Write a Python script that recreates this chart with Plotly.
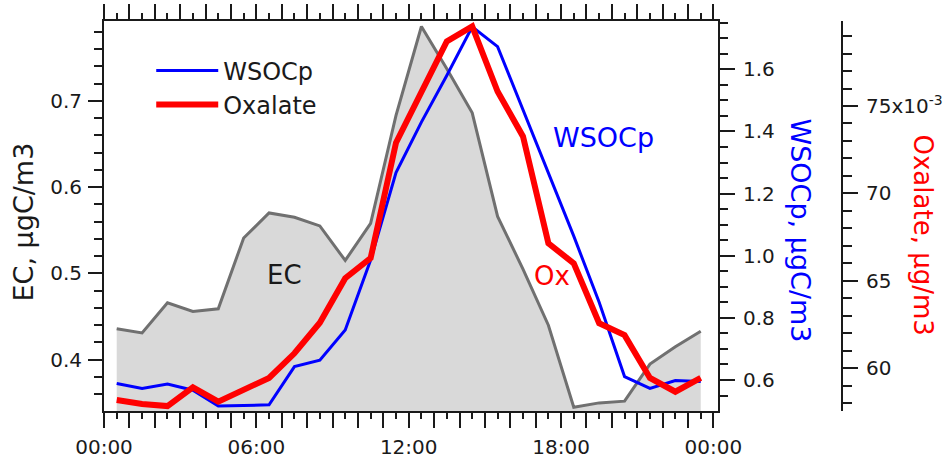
import plotly.graph_objects as go

# Hourly averages, time of day in hours (HH:30)
hours = [h + 0.5 for h in range(24)]

# Elemental carbon, ugC/m3
ec = [0.436, 0.431, 0.466, 0.456, 0.459, 0.541, 0.570, 0.565, 0.555, 0.515, 0.558, 0.683,
      0.786, 0.737, 0.686, 0.566, 0.505, 0.440, 0.345, 0.350, 0.352, 0.395, 0.415, 0.433]

# Particulate water-soluble organic carbon, ugC/m3
wsocp = [0.589, 0.573, 0.587, 0.567, 0.516, 0.518, 0.520, 0.643, 0.664, 0.761, 0.986, 1.268,
         1.430, 1.580, 1.737, 1.673, 1.470, 1.265, 1.063, 0.850, 0.611, 0.573, 0.598, 0.595]

# Oxalate, ug/m3
oxalate = [0.05819, 0.05796, 0.05784, 0.05891, 0.05809, 0.05875, 0.05945, 0.06086, 0.06261,
           0.06515, 0.06630, 0.07290, 0.07574, 0.07870, 0.07955, 0.07583, 0.07326, 0.06715,
           0.06600, 0.06258, 0.06190, 0.05945, 0.05866, 0.05945]

time_ticks = [0, 6, 12, 18, 24]
time_labels = ["00:00", "06:00", "12:00", "18:00", "00:00"]
ox_ticks = [0.060, 0.065, 0.070, 0.075]
ox_labels = ["60", "65", "70", "75x10<sup>-3</sup>"]

FONT = "DejaVu Sans"
BLACK = "#1a1a1a"

fig = go.Figure()

fig.add_trace(go.Scatter(
    x=hours, y=ec, mode="lines", name="EC", showlegend=False,
    line=dict(color="#707070", width=3), fill="tozeroy", fillcolor="#d9d9d9",
    xaxis="x", yaxis="y"))
fig.add_trace(go.Scatter(
    x=hours, y=wsocp, mode="lines", name="WSOCp",
    line=dict(color="#0000ff", width=3), xaxis="x", yaxis="y2"))
fig.add_trace(go.Scatter(
    x=hours, y=oxalate, mode="lines", name="Oxalate",
    line=dict(color="#ff0000", width=6), xaxis="x", yaxis="y3"))
# empty trace that carries the half-hour tick axis
fig.add_trace(go.Scatter(x=[], y=[], xaxis="x2", yaxis="y", showlegend=False,
                         hoverinfo="skip"))

axis_common = dict(showgrid=False, zeroline=False, showline=True, linecolor=BLACK,
                   linewidth=2, ticks="outside", tickcolor=BLACK, tickwidth=2,
                   tickfont=dict(family=FONT, size=20, color=BLACK))

xr = [0, 24.18]
fig.update_layout(
    width=948, height=463,
    margin=dict(l=104, r=106, t=21, b=52, autoexpand=False),
    paper_bgcolor="white", plot_bgcolor="white",
    font=dict(family=FONT, color=BLACK),
    xaxis=dict(axis_common, domain=[0, 614 / 738], range=xr, anchor="y",
               tickmode="array", tickvals=time_ticks, ticktext=time_labels,
               ticklen=15, mirror="allticks", ticklabelstandoff=2,
               minor=dict(dtick=1, tick0=0, ticklen=11, tickwidth=2, tickcolor=BLACK,
                          ticks="outside")),
    xaxis2=dict(domain=[0, 614 / 738], range=xr, overlaying="x", anchor="y",
                showgrid=False, zeroline=False, showline=False, showticklabels=False,
                ticks="outside", tickmode="linear", tick0=0, dtick=0.5, ticklen=7,
                tickwidth=2, tickcolor=BLACK, mirror="allticks"),
    yaxis=dict(axis_common, range=[0.3406, 0.7924], anchor="x",
               tickmode="linear", tick0=0, dtick=0.1, tickformat=".1f", ticklen=14,
               ticklabelstandoff=2,
               minor=dict(dtick=0.02, tick0=0, ticklen=8, tickwidth=2, tickcolor=BLACK,
                          ticks="outside")),
    yaxis2=dict(axis_common, range=[0.5002, 1.7555], anchor="x", overlaying="y",
                side="right", tickmode="linear", tick0=0, dtick=0.2, tickformat=".1f",
                ticklen=15, ticklabelstandoff=4,
                minor=dict(dtick=0.05, tick0=0, ticklen=8, tickwidth=2, tickcolor=BLACK,
                           ticks="outside")),
    yaxis3=dict(axis_common, range=[0.05756, 0.07986], anchor="free", position=1,
                overlaying="y", side="right", tickmode="array", tickvals=ox_ticks,
                ticktext=ox_labels, ticklen=15, ticklabelstandoff=4,
                minor=dict(tickmode="linear", dtick=0.001, tick0=0, ticklen=9,
                           tickwidth=2, tickcolor=BLACK, ticks="outside")),
    legend=dict(x=0.064, y=0.93, xanchor="left", yanchor="top", bgcolor="rgba(0,0,0,0)",
                font=dict(family=FONT, size=24, color=BLACK), itemwidth=62,
                tracegroupgap=0),
    showlegend=True,
)

annotations = [
    dict(text="EC, μgC/m3", x=-0.1084, y=0.4833, xref="paper", yref="paper",
         textangle=-90, font=dict(size=27, color=BLACK)),
    dict(text="WSOCp, μgC/m3", x=0.9438, y=0.464, xref="paper", yref="paper",
         textangle=90, font=dict(size=27, color="#0000ff")),
    dict(text="Oxalate, μg/m3", x=1.1104, y=0.4513, xref="paper", yref="paper",
         textangle=90, font=dict(size=26, color="#ff0000")),
    dict(text="EC", x=7.09, y=0.498, xref="x", yref="y",
         font=dict(size=26, color=BLACK)),
    dict(text="WSOCp", x=19.69, y=1.379, xref="x", yref="y2",
         font=dict(size=27, color="#0000ff")),
    dict(text="Ox", x=17.66, y=0.06528, xref="x", yref="y3",
         font=dict(size=26, color="#ff0000")),
]
for a in annotations:
    a.update(showarrow=False, xanchor="center", yanchor="middle")
    a["font"]["family"] = FONT
fig.update_layout(annotations=annotations)

fig.write_html("out.html")
